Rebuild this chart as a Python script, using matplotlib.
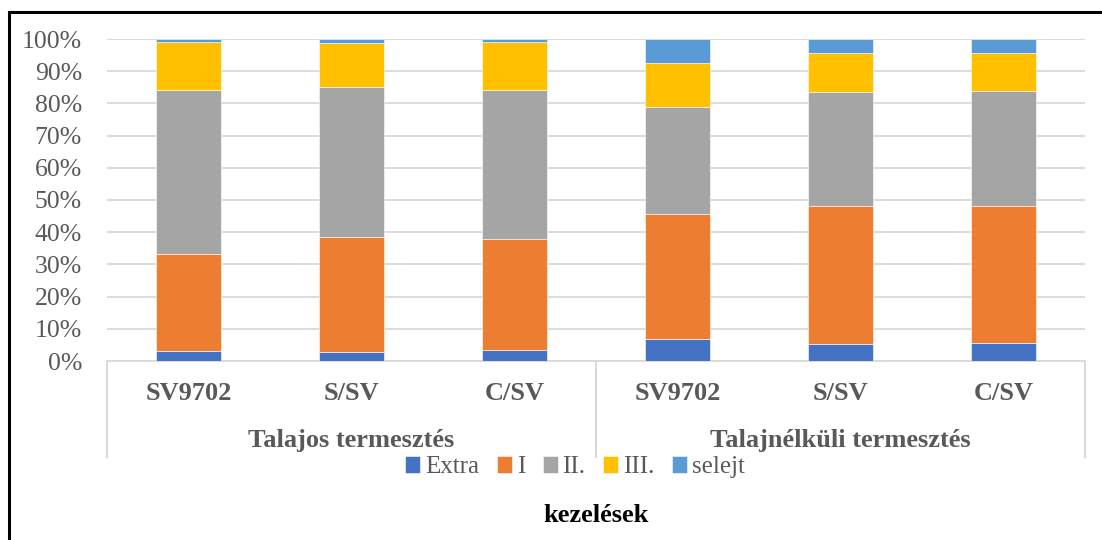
import numpy as np
import matplotlib
matplotlib.use("Agg")
import matplotlib.pyplot as plt
from matplotlib.lines import Line2D
import matplotlib.transforms as mtransforms

plt.rcParams['font.family'] = ['Liberation Serif', 'DejaVu Serif']

# data (percent)
categories = ["SV9702", "S/SV", "C/SV", "SV9702", "S/SV", "C/SV"]
groups = ["Talajos termesztés", "Talajnélküli termesztés"]
series_names = ["Extra", "I", "II.", "III.", "selejt"]
extra = [3.2, 2.9, 3.4, 6.9, 5.3, 5.7]
first = [30.1, 35.6, 34.6, 38.6, 42.9, 42.5]
second = [51.0, 46.7, 46.3, 33.4, 35.4, 35.7]
third = [14.7, 13.7, 14.8, 13.5, 12.1, 11.7]
selejt = [1.0, 1.1, 0.9, 7.6, 4.3, 4.4]
colors = ["#4472c4", "#ed7d31", "#a5a5a5", "#ffc000", "#5b9bd5"]

W, H = 1102, 540
fig = plt.figure(figsize=(W / 100, H / 100), dpi=100)
ax = fig.add_axes([107 / W, 1 - 361 / H, (1085 - 107) / W, (361 - 39) / H])

x = np.arange(len(categories))
all_series = [extra, first, second, third, selejt]
bottom = np.zeros(len(categories))
for vals, name, col in zip(all_series, series_names, colors):
    vals = np.array(vals)
    ax.bar(x, vals, 0.4, bottom=bottom, color=col, label=name,
           edgecolor="white", linewidth=0.4, zorder=3)
    bottom += vals

ax.set_xlim(-0.5, len(categories) - 0.5)
ax.set_ylim(0, 100)
ax.set_yticks(np.arange(0, 101, 10))
ax.set_yticklabels([f"{v}%" for v in range(0, 101, 10)], fontsize=18.5, color="#595959")
ax.tick_params(axis="y", length=0, pad=18)
ax.set_xticks([])
ax.grid(axis="y", color="#d9d9d9", linewidth=1.3, zorder=0)
for s in ["top", "right", "left"]:
    ax.spines[s].set_visible(False)
ax.spines["bottom"].set_color("#d9d9d9")
ax.spines["bottom"].set_linewidth(1.3)

# multi-level category axis
trans = mtransforms.blended_transform_factory(ax.transData, fig.transFigure)
y_top = 1 - 361 / H
y_bot = 1 - 457 / H
for xs in [-0.5, 2.5, 5.5]:
    fig.add_artist(Line2D([xs, xs], [y_top, y_bot], transform=trans,
                          color="#d9d9d9", linewidth=1.5))
for xi, lab in zip(x, categories):
    fig.text(xi, 1 - 394 / H, lab, transform=trans, ha="center", va="center",
             fontsize=19, fontweight="bold", color="#595959")
for gi, g in enumerate(groups):
    fig.text(gi * 3 + 1, 1 - 440 / H, g, transform=trans, ha="center", va="center",
             fontsize=19, fontweight="bold", color="#595959")

handles, labels = ax.get_legend_handles_labels()
leg = fig.legend(handles, labels, loc="center", bbox_to_anchor=(575 / W, 1 - 467 / H),
                 ncol=5, frameon=False, fontsize=18, handlelength=0.6, handleheight=0.7,
                 handletextpad=0.2, columnspacing=0.7, borderaxespad=0)
for t in leg.get_texts():
    t.set_color("#595959")

fig.text(596 / W, 1 - 516 / H, "kezelések", ha="center", va="center",
         fontsize=19, fontweight="bold", color="black")

# outer frame (left and top edges visible)
fig.add_artist(Line2D([9 / W, 9 / W], [0, 1 - 12 / H], transform=fig.transFigure,
                      color="black", linewidth=2.2))
fig.add_artist(Line2D([9 / W, 1], [1 - 12 / H, 1 - 12 / H], transform=fig.transFigure,
                      color="black", linewidth=2.2))

fig.savefig("out.png", dpi=100)
